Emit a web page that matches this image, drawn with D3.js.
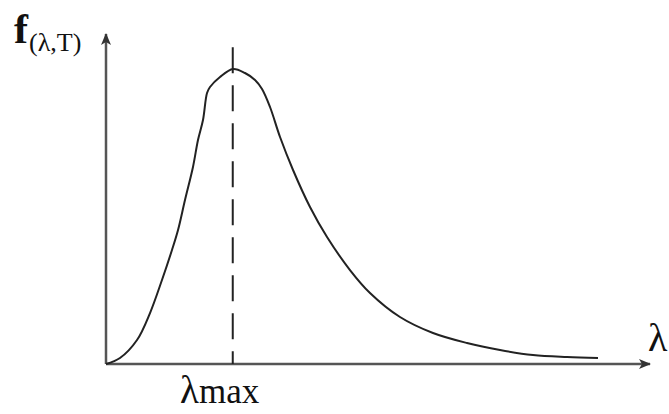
<!DOCTYPE html>
<html>
<head>
<meta charset="utf-8">
<script src="https://cdn.jsdelivr.net/npm/d3@7"></script>
<style>
  html, body { margin: 0; padding: 0; background: #fff; }
  svg { display: block; }
  text { font-family: "Liberation Serif", "DejaVu Serif", serif; fill: #111; }
</style>
</head>
<body>
<script>
// Schematic Planck-like curve (arbitrary units: lambda 0..100, f 0..100)
const lambdaVals = [0, 2.57, 5.70, 8.09, 10.29, 12.13, 13.24, 14.52, 15.99, 16.91, 17.83, 18.57, 19.12, 20.96, 23.35, 25.55, 27.39, 28.68, 30.15, 31.99, 34.38, 37.50, 40.63, 44.85, 48.53, 54.04, 60.11, 66.36, 72.43, 78.49, 84.74, 90.44];
const fVals      = [0, 1.82, 7.27, 15.45, 25.45, 34.55, 40.61, 49.70, 59.70, 67.88, 73.94, 82.12, 83.94, 86.97, 89.39, 88.18, 86.06, 83.33, 77.88, 68.79, 58.79, 47.58, 38.48, 28.48, 21.52, 14.24, 9.39, 6.36, 4.24, 2.73, 2.12, 1.82];
const lambdaMax = 23.3;
const dashTop = 96;
const xDomain = [0, 100];
const yDomain = [0, 100];
const yLabelMain = "f";
const yLabelSub = "(λ,T)";
const xLabel = "λ";
const peakLabelMain = "λ";
const peakLabelSub = "max";

const W = 669, H = 414;
const svg = d3.select("body").append("svg").attr("width", W).attr("height", H);

const x = d3.scaleLinear().domain(xDomain).range([106, 650]);
const y = d3.scaleLinear().domain(yDomain).range([364, 34]);

const defs = svg.append("defs");
defs.append("marker")
  .attr("id", "arrow")
  .attr("viewBox", "0 0 12 10")
  .attr("refX", 11).attr("refY", 5)
  .attr("markerWidth", 13).attr("markerHeight", 10)
  .attr("markerUnits", "userSpaceOnUse")
  .attr("orient", "auto")
  .append("path")
  .attr("d", "M0,0 L12,5 L0,10 L3,5 Z")
  .attr("fill", "#333");

const line = d3.line().x(d => x(d[0])).y(d => y(d[1]));

// axes
svg.append("path")
  .attr("d", line([[xDomain[0], 0], [xDomain[1], 0]]))
  .attr("stroke", "#555").attr("stroke-width", 2.5).attr("fill", "none")
  .attr("marker-end", "url(#arrow)");
svg.append("path")
  .attr("d", line([[0, yDomain[0]], [0, yDomain[1]]]))
  .attr("stroke", "#555").attr("stroke-width", 2.5).attr("fill", "none")
  .attr("marker-end", "url(#arrow)");

// dashed lambda_max line
svg.append("path")
  .attr("d", line([[lambdaMax, dashTop], [lambdaMax, 0]]))
  .attr("stroke", "#222").attr("stroke-width", 2).attr("fill", "none")
  .attr("stroke-dasharray", "26,12");

// curve
const pts = lambdaVals.map((l, i) => [l, fVals[i]]);
svg.append("path")
  .attr("d", d3.line().x(d => x(d[0])).y(d => y(d[1])).curve(d3.curveCatmullRom.alpha(0.5))(pts))
  .attr("stroke", "#222").attr("stroke-width", 2).attr("fill", "none");

// labels
const yl = svg.append("text").attr("x", 14).attr("y", 43);
yl.append("tspan").attr("font-size", 42).attr("font-weight", "bold").text(yLabelMain);
yl.append("tspan").attr("font-size", 26).attr("dx", 1).attr("dy", 8).text(yLabelSub);

svg.append("text").attr("x", 648).attr("y", 351).attr("font-size", 40).text(xLabel);

const pl = svg.append("text").attr("x", 180).attr("y", 403);
pl.append("tspan").attr("font-size", 39).text(peakLabelMain);
pl.append("tspan").attr("font-size", 35).text(peakLabelSub);
</script>
</body>
</html>
